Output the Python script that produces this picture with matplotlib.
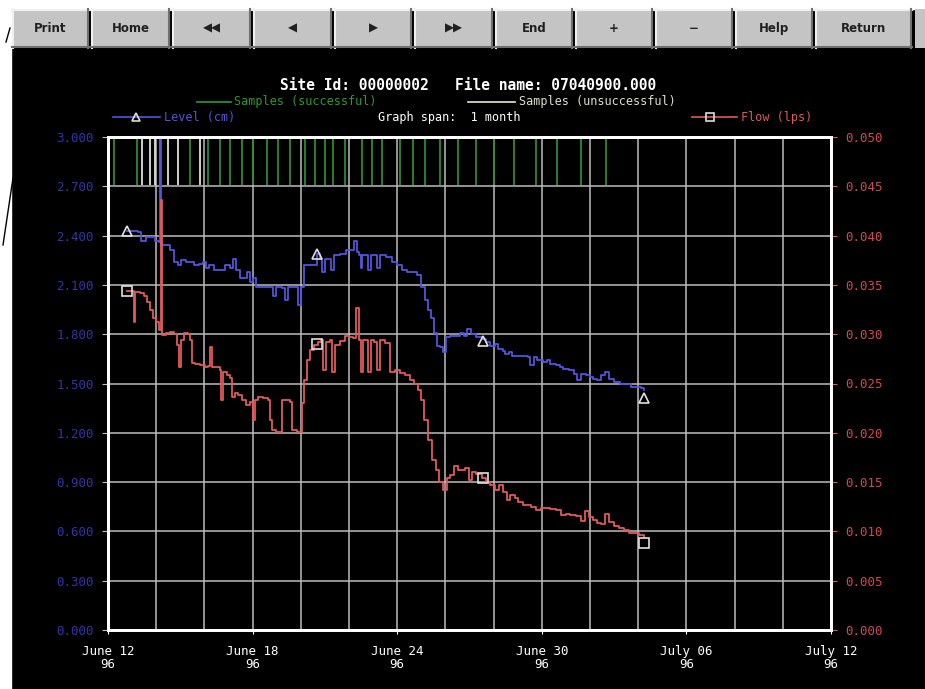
import matplotlib
matplotlib.use("Agg")
import matplotlib.pyplot as plt
from matplotlib.lines import Line2D
from matplotlib.patches import Rectangle

W, H = 925, 689

# ---- data (days since June 12 1996) ----
level_days = [0.79, 1.12, 1.25, 1.37, 1.58, 1.74, 1.95, 2.12, 2.16, 2.20,
              2.37, 2.58, 2.74, 2.91, 3.03, 3.24, 3.41, 3.57, 3.78, 3.95,
              4.07, 4.20, 4.40, 4.65, 4.86, 5.07, 5.19, 5.32, 5.48, 5.65,
              5.77, 5.90, 6.02, 6.15, 6.31, 6.52, 6.73, 6.86, 6.98, 7.23,
              7.35, 7.48, 7.77, 7.89, 8.02, 8.14, 8.35, 8.52, 8.68, 8.81,
              8.89, 9.02, 9.18, 9.26, 9.39, 9.64, 9.89, 10.22, 10.35, 10.41,
              10.49, 10.55, 10.68, 10.80, 10.93, 11.05, 11.18, 11.30, 11.55, 11.80,
              12.01, 12.21, 12.42, 12.63, 12.84, 13.00, 13.17, 13.29, 13.42, 13.54,
              13.67, 13.79, 13.92, 14.04, 14.21, 14.42, 14.62, 14.79, 14.91, 15.08,
              15.29, 15.50, 15.70, 15.87, 16.04, 16.20, 16.37, 16.49, 16.62, 16.78,
              17.03, 17.24, 17.41, 17.53, 17.66, 17.82, 18.03, 18.20, 18.36, 18.57,
              18.74, 18.90, 19.11, 19.32, 19.48, 19.61, 19.82, 19.98, 20.11, 20.27,
              20.44, 20.61, 20.77, 20.98, 21.23, 21.48, 21.69, 21.94, 22.10, 22.23]
level_cm = [2.43, 2.43, 2.42, 2.37, 2.39, 2.39, 2.37, 2.36, 3.00, 2.34,
            2.34, 2.31, 2.24, 2.22, 2.25, 2.24, 2.24, 2.22, 2.23, 2.24,
            2.20, 2.22, 2.19, 2.19, 2.22, 2.20, 2.26, 2.19, 2.14, 2.14,
            2.18, 2.12, 2.14, 2.09, 2.09, 2.09, 2.09, 2.03, 2.09, 2.08,
            2.01, 2.09, 2.09, 1.98, 2.09, 2.22, 2.22, 2.22, 2.29, 2.26,
            2.18, 2.26, 2.26, 2.19, 2.28, 2.29, 2.31, 2.37, 2.30, 2.28,
            2.20, 2.28, 2.28, 2.19, 2.28, 2.28, 2.20, 2.28, 2.27, 2.24,
            2.22, 2.19, 2.18, 2.18, 2.16, 2.09, 2.01, 1.95, 1.90, 1.81,
            1.73, 1.72, 1.69, 1.78, 1.79, 1.79, 1.81, 1.79, 1.83, 1.80,
            1.78, 1.77, 1.75, 1.73, 1.74, 1.71, 1.70, 1.68, 1.69, 1.67,
            1.67, 1.67, 1.66, 1.61, 1.66, 1.64, 1.63, 1.64, 1.62, 1.61,
            1.60, 1.59, 1.58, 1.56, 1.52, 1.56, 1.55, 1.54, 1.53, 1.52,
            1.55, 1.57, 1.53, 1.51, 1.50, 1.50, 1.48, 1.48, 1.47, 1.46]

flow_days = [0.79, 0.96, 1.04, 1.08, 1.12, 1.33, 1.50, 1.62, 1.74, 1.87,
             1.99, 2.12, 2.20, 2.24, 2.41, 2.58, 2.74, 2.87, 2.95, 3.03,
             3.16, 3.32, 3.41, 3.49, 3.61, 3.82, 4.03, 4.15, 4.24, 4.32,
             4.53, 4.65, 4.69, 4.78, 4.94, 5.07, 5.15, 5.28, 5.40, 5.57,
             5.73, 5.90, 6.02, 6.11, 6.23, 6.44, 6.65, 6.73, 6.81, 6.98,
             7.15, 7.23, 7.40, 7.56, 7.64, 7.85, 7.98, 8.06, 8.14, 8.27,
             8.39, 8.56, 8.72, 8.85, 8.93, 9.06, 9.22, 9.31, 9.43, 9.64,
             9.85, 10.01, 10.18, 10.30, 10.43, 10.51, 10.59, 10.72, 10.80, 10.93,
             11.05, 11.18, 11.30, 11.51, 11.72, 11.92, 12.13, 12.34, 12.55, 12.71,
             12.88, 13.00, 13.13, 13.29, 13.46, 13.63, 13.75, 13.92, 14.08, 14.21,
             14.37, 14.54, 14.71, 14.83, 14.96, 15.12, 15.29, 15.50, 15.70, 15.87,
             16.04, 16.24, 16.41, 16.54, 16.70, 16.87, 17.03, 17.20, 17.41, 17.57,
             17.74, 17.95, 18.16, 18.36, 18.57, 18.78, 18.99, 19.19, 19.40, 19.61,
             19.78, 19.94, 20.11, 20.27, 20.44, 20.61, 20.77, 20.98, 21.19, 21.40,
             21.60, 21.81, 22.02, 22.23]
flow_lps = [0.0344, 0.0344, 0.0344, 0.0312, 0.0343, 0.0342, 0.0339, 0.0333, 0.0325, 0.0316,
            0.0312, 0.0304, 0.0436, 0.0299, 0.0301, 0.0302, 0.0300, 0.0289, 0.0267, 0.0294,
            0.0301, 0.0300, 0.0294, 0.0271, 0.0270, 0.0269, 0.0267, 0.0268, 0.0287, 0.0267,
            0.0267, 0.0264, 0.0233, 0.0262, 0.0259, 0.0256, 0.0236, 0.0240, 0.0238, 0.0233,
            0.0228, 0.0231, 0.0213, 0.0233, 0.0236, 0.0235, 0.0233, 0.0213, 0.0203, 0.0201,
            0.0201, 0.0233, 0.0233, 0.0231, 0.0203, 0.0201, 0.0201, 0.0230, 0.0254, 0.0274,
            0.0284, 0.0289, 0.0292, 0.0294, 0.0264, 0.0292, 0.0294, 0.0262, 0.0289, 0.0293,
            0.0298, 0.0297, 0.0296, 0.0327, 0.0294, 0.0262, 0.0294, 0.0294, 0.0262, 0.0294,
            0.0292, 0.0264, 0.0294, 0.0291, 0.0262, 0.0264, 0.0261, 0.0259, 0.0254, 0.0249,
            0.0243, 0.0233, 0.0213, 0.0193, 0.0172, 0.0162, 0.0150, 0.0142, 0.0154, 0.0157,
            0.0166, 0.0162, 0.0162, 0.0164, 0.0152, 0.0160, 0.0158, 0.0154, 0.0150, 0.0147,
            0.0142, 0.0147, 0.0140, 0.0132, 0.0137, 0.0134, 0.0130, 0.0127, 0.0127, 0.0125,
            0.0122, 0.0124, 0.0124, 0.0123, 0.0122, 0.0117, 0.0118, 0.0117, 0.0116, 0.0111,
            0.0121, 0.0115, 0.0112, 0.0109, 0.0108, 0.0118, 0.0110, 0.0105, 0.0103, 0.0101,
            0.0098, 0.0098, 0.0096, 0.0094]

marker_days = [0.79, 8.68, 15.54, 22.23]
level_marker_cm = [2.43, 2.29, 1.76, 1.41]
flow_marker_lps = [0.0344, 0.0290, 0.0154, 0.0088]

samples_ok = [0.25, 1.20, 2.16, 3.41, 4.15, 4.65, 5.07, 5.57, 6.02, 6.61,
              7.06, 7.56, 8.18, 8.60, 9.02, 9.35, 9.85, 10.55, 10.97, 11.38,
              12.13, 12.67, 13.17, 13.79, 14.54, 15.25, 16.00, 16.83, 17.74,
              18.65, 19.61, 20.65]
samples_fail = [1.41, 1.74, 1.95, 2.49, 2.91, 3.82]

date_labels = ["June 12\n96", "June 18\n96", "June 24\n96",
               "June 30\n96", "July 06\n96", "July 12\n96"]
level_ticks = [0.0, 0.3, 0.6, 0.9, 1.2, 1.5, 1.8, 2.1, 2.4, 2.7, 3.0]
flow_ticks = [0.0, 0.005, 0.010, 0.015, 0.020, 0.025, 0.030, 0.035, 0.040, 0.045, 0.050]

buttons = ["Print", "Home", "\u25c0\u25c0", "\u25c0", "\u25b6", "\u25b6\u25b6",
           "End", "+", "\u2212", "Help", "Return"]
button_edges = [11, 90, 171, 252, 333, 413, 494, 574, 654, 734, 814, 913]

BLUE = "#5454dc"
RED = "#e05a5a"
MONO = "DejaVu Sans Mono"


def px(x, y):
    return x / W, 1 - y / H


fig = plt.figure(figsize=(W / 100, H / 100), dpi=100, facecolor="black")

# white scan margins
fig.add_artist(Rectangle((0, 0), 11 / W, 1, transform=fig.transFigure,
                         color="white", zorder=0))
fig.add_artist(Rectangle(px(0, 9), 1, 9 / H, transform=fig.transFigure,
                         color="white", zorder=0))
fig.add_artist(Line2D([13 / W, 3 / W], [1 - 178 / H, 1 - 245 / H], color="black", lw=1))
fig.add_artist(Line2D([10 / W, 6 / W], [1 - 28 / H, 1 - 42 / H], color="black", lw=1))

# toolbar buttons
top, bot = 9, 48
for i, label in enumerate(buttons):
    x0, x1 = button_edges[i] + 1, button_edges[i + 1] - 1
    fig.add_artist(Rectangle(px(x0, bot), (x1 - x0) / W, (bot - top) / H,
                             transform=fig.transFigure, facecolor="#c4c4c4",
                             edgecolor="none"))
    fig.add_artist(Line2D([x0 / W, x1 / W], [1 - (top + 1) / H] * 2, color="#f0f0f0", lw=1.5))
    fig.add_artist(Line2D([(x0 + 1) / W] * 2, [1 - top / H, 1 - bot / H], color="#f0f0f0", lw=1.5))
    fig.add_artist(Line2D([x0 / W, x1 / W], [1 - (bot - 1) / H] * 2, color="#707070", lw=1.5))
    fig.add_artist(Line2D([(x1 - 1) / W] * 2, [1 - top / H, 1 - bot / H], color="#707070", lw=1.5))
    cx, cy = px((x0 + x1) / 2, (top + bot) / 2)
    fig.text(cx, cy, label, ha="center", va="center", fontsize=8.5,
             fontweight="bold", color="#202020", family="DejaVu Sans")
fig.add_artist(Rectangle(px(915, bot), 10 / W, (bot - top) / H,
                         transform=fig.transFigure, facecolor="#c4c4c4", edgecolor="none"))

# title and legend
fig.text(*px(468, 85), "Site Id: 00000002   File name: 07040900.000", ha="center",
         va="center", color="white", fontsize=10.5, fontweight="bold", family=MONO)

fig.add_artist(Line2D([197 / W, 231 / W], [1 - 102 / H] * 2, color="#2e9a2e", lw=1.2))
fig.text(*px(234, 102), "Samples (successful)", va="center", color="#2e9a2e",
         fontsize=8.5, family=MONO)
fig.add_artist(Line2D([468 / W, 515 / W], [1 - 102 / H] * 2, color="#e8e8d8", lw=1.2))
fig.text(*px(519, 102), "Samples (unsuccessful)", va="center", color="#e0e0c8",
         fontsize=8.5, family=MONO)

fig.add_artist(Line2D([113 / W, 160 / W], [1 - 117 / H] * 2, color=BLUE, lw=1.2))
fig.add_artist(Line2D([136 / W], [1 - 117 / H], marker="^", ms=6, mfc="none",
                      mec="#dddddd", mew=1.2, color=BLUE))
fig.text(*px(164, 117), "Level (cm)", va="center", color=BLUE, fontsize=8.5, family=MONO)
fig.text(*px(378, 117), "Graph span:  1 month", va="center", color="white",
         fontsize=8.5, family=MONO)
fig.add_artist(Line2D([692 / W, 737 / W], [1 - 117 / H] * 2, color=RED, lw=1.2))
fig.add_artist(Line2D([710 / W], [1 - 117 / H], marker="s", ms=6, mfc="none",
                      mec="#dddddd", mew=1.2, color=RED))
fig.text(*px(741, 117), "Flow (lps)", va="center", color=RED, fontsize=8.5, family=MONO)

# main axes
ax = fig.add_axes([108 / W, 1 - 630 / H, 723 / W, 493 / H], facecolor="black")
ax2 = ax.twinx()

ax.set_xlim(0, 30)
ax.set_ylim(0, 3.0)
ax2.set_ylim(0, 0.05)

ax.set_xticks(range(0, 31, 6))
ax.set_xticklabels(date_labels)
ax.set_xticks(range(0, 31, 2), minor=True)
ax.set_yticks(level_ticks)
ax.set_yticklabels([f"{v:.3f}" for v in level_ticks])
ax2.set_yticks(flow_ticks)
ax2.set_yticklabels([f"{v:.3f}" for v in flow_ticks])

ax.grid(True, which="both", axis="x", color="#bdbdbd", lw=1.1)
ax.grid(True, which="major", axis="y", color="#bdbdbd", lw=1.1)
ax.set_axisbelow(True)

for a in (ax, ax2):
    for s in a.spines.values():
        s.set_color("white")
        s.set_linewidth(2)
ax.tick_params(axis="x", which="both", colors="white", length=3, pad=8,
               labelsize=9)
ax.tick_params(axis="x", which="minor", length=0)
ax.tick_params(axis="y", colors="#c0c0c0", length=4, pad=6, labelsize=9,
               labelcolor="#3434a4")
ax2.tick_params(axis="y", colors=RED, length=4, pad=6, labelsize=9,
                labelcolor="#d04a4a")
for lbl in ax.get_xticklabels() + ax.get_yticklabels() + ax2.get_yticklabels():
    lbl.set_family(MONO)
for lbl in ax.get_xticklabels():
    lbl.set_linespacing(1.0)

# sample markers along the top
ax.vlines(samples_ok, 2.71, 3.0, color="#2e8a2e", lw=1.3)
ax.vlines(samples_fail, 2.71, 3.0, color="#e0e0d0", lw=1.3)

# series
ax.plot(level_days, level_cm, color=BLUE, lw=1.3, drawstyle="steps-post", zorder=3)
ax2.plot(flow_days, flow_lps, color=RED, lw=1.3, drawstyle="steps-post", zorder=3)
ax.plot(marker_days, level_marker_cm, ls="none", marker="^", ms=7, mfc="none",
        mec="#e0e0e0", mew=1.2, zorder=4)
ax2.plot(marker_days, flow_marker_lps, ls="none", marker="s", ms=6.5, mfc="none",
         mec="#e0e0e0", mew=1.2, zorder=4)

fig.savefig("out.png", dpi=100, facecolor="black")
